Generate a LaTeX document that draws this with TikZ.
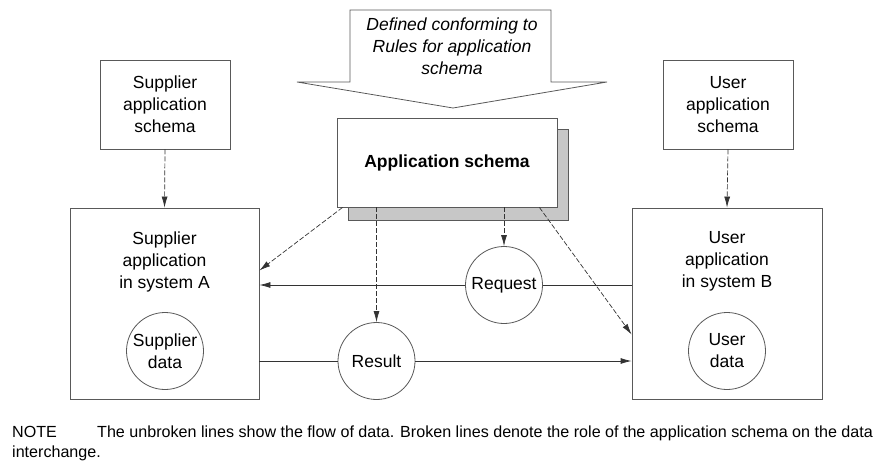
\documentclass[tikz,border=0pt]{standalone}
\usepackage{fontspec}
\setmainfont{Liberation Sans}
\usetikzlibrary{arrows.meta,calc}

\tikzset{
  frame/.style={draw=black!65, line width=0.8pt, fill=white, inner sep=0pt},
  boxnode/.style={frame, rectangle},
  datacircle/.style={frame, circle, minimum size=77pt, align=center},
  label text/.style={align=center, inner sep=0pt, font=\fontsize{17.5}{22}\selectfont},
  flow/.style={draw=black!80, line width=0.8pt},
  schemaline/.style={draw=black!80, line width=0.7pt, dash pattern=on 5pt off 2pt},
  tip/.style={-{Latex[length=11pt,width=6pt]}},
}

\begin{document}
\begin{tikzpicture}[x=1pt, y=-1pt]
  \path[use as bounding box] (0,0) rectangle (888,463);

  % defining rules: wide downward arrow
  \draw[draw=black!65, line width=0.8pt, fill=white]
    (350,10) -- (551,10) -- (551,82) -- (607,82) -- (453,108)
    -- (297,82) -- (350,82) -- cycle;
  \node[label text, font=\fontsize{17.5}{22}\itshape\selectfont] (rules) at (452,46)
    {Defined conforming to\\Rules for application\\schema};

  % application schema with its shadow
  \fill[black!22] (348,129) rectangle (568,220);
  \draw[black!65, line width=0.8pt] (348,129) rectangle (568,220);
  \node[boxnode, minimum width=220pt, minimum height=89pt,
        font=\fontsize{17.5}{22}\bfseries\selectfont] (app) at (447,162.5)
    {Application schema};

  % schema boxes of the two sides
  \node[boxnode, minimum width=130pt, minimum height=89pt] (supschema) at (165,104.5) {};
  \node[label text] at (supschema) {Supplier\\application\\schema};
  \node[boxnode, minimum width=130pt, minimum height=89pt] (userschema) at (728,104.5) {};
  \node[label text] at (userschema) {User\\application\\schema};

  % the two application systems
  \node[boxnode, minimum width=189pt, minimum height=191pt] (sysA) at (164.5,303.5) {};
  \node[label text] (sysAtext) at (164.5,262) {Supplier\\application\\in system A};
  \node[boxnode, minimum width=190pt, minimum height=191pt] (sysB) at (727,303.5) {};
  \node[label text] (sysBtext) at (727,261) {User\\application\\in system B};

  % data stores and exchanged items
  \node[datacircle, label text, frame] (supdata) at (165,351) {Supplier\\data};
  \node[datacircle, label text, frame] (userdata) at (727,351) {User\\data};
  \node[datacircle, label text, frame] (request) at (504,285) {Request};
  \node[datacircle, label text, frame] (result) at (376.5,361) {Result};

  % role of the schemas (broken lines)
  \draw[schemaline, tip] (supschema.south) -- (sysA.north);
  \draw[schemaline, tip] (userschema.south) -- (sysB.north);
  \draw[schemaline, tip] ($(app.south west)+(6,0)$) -- ($(sysA.east)+(0,-33)$);
  \draw[schemaline, tip] (result |- app.south) -- (result.north);
  \draw[schemaline, tip] (request |- app.south) -- (request.north);
  \draw[schemaline, tip] ($(app.south east)+(-18,0)$) -- ($(sysB.west)+(0,31)$);

  % flow of data (unbroken lines)
  \draw[flow] (sysB.west |- request) -- (request.east);
  \draw[flow, tip] (request.west) -- (sysA.east |- request);
  \draw[flow] (sysA.east |- result) -- (result.west);
  \draw[flow, tip] (result.east) -- (sysB.west |- result);

  % note
  \node[anchor=north west, align=left, inner sep=0pt,
        font=\fontsize{16.1}{20}\selectfont] (note) at (12,426)
    {\makebox[85pt][l]{NOTE}The unbroken lines show the flow of data. Broken lines denote the role of the application schema on the data\\interchange.};
\end{tikzpicture}
\end{document}
